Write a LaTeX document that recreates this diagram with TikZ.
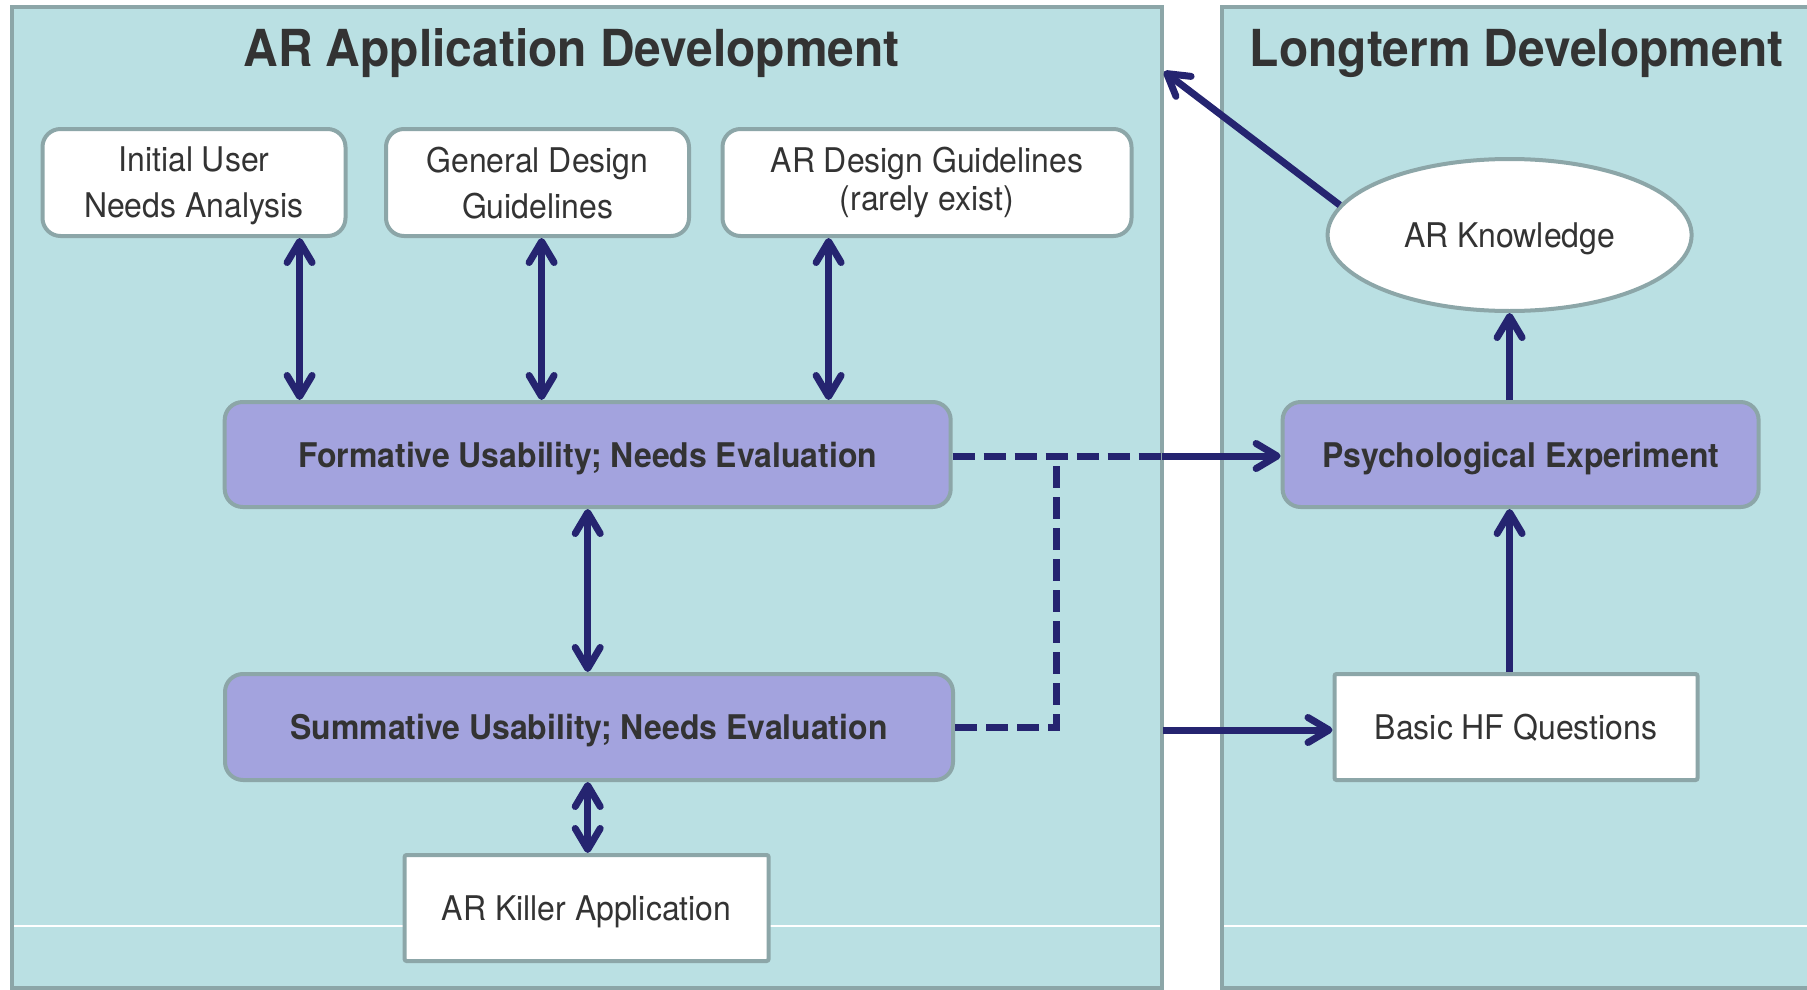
\documentclass[tikz,border=0pt]{standalone}
\usepackage{fontspec}
\setmainfont{TeX Gyre Heros}[FakeStretch=0.94]
\usetikzlibrary{arrows.meta,shapes.geometric,calc}
\definecolor{panelfill}{HTML}{BAE0E3}
\definecolor{panelline}{HTML}{8CA6A8}
\definecolor{navy}{HTML}{252470}
\definecolor{purp}{HTML}{A3A3DE}
\definecolor{txt}{HTML}{333333}
\begin{document}
\begin{tikzpicture}[x=1pt,y=-1pt,
  panel/.style={fill=panelfill,draw=panelline,line width=4pt},
  titletext/.style={text=txt,font=\fontsize{51}{60}\selectfont\bfseries,inner sep=0pt},
  wbox/.style={draw=panelline,line width=4pt,fill=white,rounded corners=18pt,text=txt,align=center,inner sep=0pt,text depth=0pt,font=\fontsize{34}{46}\selectfont},
  sbox/.style={draw=panelline,line width=4pt,fill=white,rounded corners=2pt,text=txt,align=center,inner sep=0pt,text depth=0pt,font=\fontsize{34}{40}\selectfont},
  pbox/.style={draw=panelline,line width=4pt,fill=purp,rounded corners=18pt,text=txt,align=center,inner sep=0pt,text depth=0pt,font=\fontsize{34}{40}\selectfont\bfseries},
  tip/.tip={Straight Barb[length=21pt,width=25pt,round]},
  arr/.style={draw=navy,line width=7pt,-tip},
  dbl/.style={draw=navy,line width=7pt,tip-tip},
  dsh/.style={draw=navy,line width=7pt,dash pattern=on 22pt off 9pt}
]
\useasboundingbox (0,0) rectangle (1807,990);
% panels
\draw[panel] (11.5,7) rectangle (1161.6,988);
\draw[panel] (1221.5,7) rectangle (1830,988);
\draw[white,line width=1.2pt] (14,926) -- (1159.5,926);
\draw[white,line width=1.2pt] (1224,926) -- (1807,926);
\node[titletext] (t1) at (571.6,53) {AR Application Development};
\node[titletext] (t2) at (1516.6,53) {Longterm Development};
% nodes
\node[wbox,minimum width=303pt,minimum height=107pt] (n1) at (194,182.5) {Initial User\\Needs Analysis};
\node[wbox,minimum width=303pt,minimum height=107pt] (n2) at (537.5,182.5) {General Design\\Guidelines};
\node[wbox,minimum width=409pt,minimum height=107pt,text depth={},font=\fontsize{34}{38}\selectfont] (n3) at (927,182.5) {AR Design Guidelines\\(rarely exist)};
\node[pbox,minimum width=726pt,minimum height=105pt] (form) at (587.7,454.5) {Formative Usability; Needs Evaluation};
\node[pbox,minimum width=728pt,minimum height=106pt] (summ) at (589,727) {Summative Usability; Needs Evaluation};
\node[sbox,minimum width=364pt,minimum height=106pt] (killer) at (586.6,908) {AR Killer Application};
\node[ellipse,draw=panelline,line width=4pt,fill=white,text=txt,inner sep=0pt,text depth=0pt,minimum width=364pt,minimum height=152pt,font=\fontsize{34}{40}\selectfont] (know) at (1509.6,235) {AR Knowledge};
\node[pbox,minimum width=476pt,minimum height=105pt] (psych) at (1520.6,454.5) {Psychological Experiment};
\node[sbox,minimum width=363pt,minimum height=106pt] (basic) at (1516,727) {Basic HF Questions};
% coordinates
\coordinate (a1) at (299.6,0);
\coordinate (a2) at (541.6,0);
\coordinate (a3) at (828.6,0);
\coordinate (a4) at (587.7,0);
\coordinate (a5) at (1509.6,0);
\coordinate (vx) at (1056.8,0);
\coordinate (edge1) at (1161.6,456);
\coordinate (edge2) at (1163,730);
\coordinate (kn) at (1164,71.5);
% connectors
\draw[dbl] (n1.south -| a1) -- (form.north -| a1);
\draw[dbl] (n2.south -| a2) -- (form.north -| a2);
\draw[dbl] (n3.south -| a3) -- (form.north -| a3);
\draw[dbl] (form.south -| a4) -- (summ.north -| a4);
\draw[dbl] (summ.south -| a4) -- (killer.north -| a4);
\draw[dsh] (form.east |- edge1) -- (edge1);
\draw[dsh] (summ.east) -- (summ.east -| vx) -- (edge1 -| vx);
\draw[arr] (edge1) -- (psych.west |- edge1);
\draw[arr] (edge2) -- (basic.west |- edge2);
\draw[arr] (basic.north -| a5) -- (psych.south -| a5);
\draw[arr] (psych.north -| a5) -- (know.south -| a5);
\draw[arr] (know.170) -- (kn);
\end{tikzpicture}
\end{document}
